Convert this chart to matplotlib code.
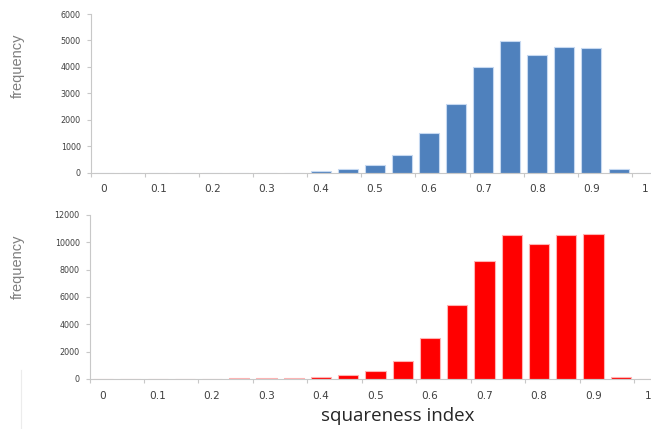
import numpy as np
import matplotlib
matplotlib.use("Agg")
import matplotlib.pyplot as plt
from matplotlib.lines import Line2D

# histogram bins of the squareness index, 0.05 wide
bins = [0, 0.05, 0.1, 0.15, 0.2, 0.25, 0.3, 0.35, 0.4, 0.45, 0.5,
        0.55, 0.6, 0.65, 0.7, 0.75, 0.8, 0.85, 0.9, 0.95, 1.0]
tick_labels = ["0", "0.1", "0.2", "0.3", "0.4", "0.5", "0.6", "0.7", "0.8", "0.9", "1"]

freq_top = [0, 0, 0, 0, 0, 0, 0, 0, 75, 150, 265, 660, 1505, 2580,
            3980, 4990, 4440, 4740, 4715, 115, 0]
freq_bottom = [0, 0, 5, 10, 20, 75, 75, 70, 150, 290, 585, 1290, 2975, 5415,
               8670, 10540, 9850, 10540, 10610, 180, 0]


def plotHist(ax, counts, ymax, ystep, face, edge):
    x = np.arange(len(bins))
    ax.bar(x, counts, width=0.74, color=face, edgecolor=edge, linewidth=0.8, zorder=2)
    ax.set_xlim(-0.5, len(bins) - 0.5)
    ax.set_ylim(0, ymax)
    ax.set_yticks(np.arange(0, ymax + 1, ystep))
    ax.set_yticklabels([str(v) for v in np.arange(0, ymax + 1, ystep)])
    # labels on every other bin, tick marks on bin boundaries
    ax.set_xticks(x[::2])
    ax.set_xticklabels(tick_labels)
    ax.set_xticks(np.arange(-0.5, len(bins), 2), minor=True)
    ax.tick_params(axis="x", which="major", length=0, pad=8.5, labelsize=7.6, labelcolor="#404040")
    ax.tick_params(axis="x", which="minor", length=3, width=0.8, color="#c8c8c8")
    ax.tick_params(axis="y", length=3, width=0.8, color="#c8c8c8", pad=4,
                   labelsize=5.8, labelcolor="#404040")
    for side in ["top", "right"]:
        ax.spines[side].set_visible(False)
    for side in ["left", "bottom"]:
        ax.spines[side].set_color("#c8c8c8")
        ax.spines[side].set_linewidth(0.8)
    ax.set_facecolor("none")


fig = plt.figure(figsize=(6.51, 4.29), dpi=100)

W, H = 651.0, 429.0
ax1 = fig.add_axes([90.5 / W, 1 - 172.5 / H, 21 * 27.08 / W, (172.5 - 14) / H])
plotHist(ax1, freq_top, 6000, 1000, "#4f81bd", "#c6d9f1")

ax2 = fig.add_axes([89.5 / W, 1 - 379 / H, 21 * 27.24 / W, (379 - 215) / H])
plotHist(ax2, freq_bottom, 12000, 2000, "#ff0000", "#ffb3b3")

for yc in [66, 267]:
    fig.text(18 / W, 1 - yc / H, "frequency", rotation=90, ha="center", va="center",
             fontsize=10.5, color="#7f7f7f", family=["Liberation Sans", "DejaVu Sans"])

fig.text(398 / W, 1 - 416 / H, "squareness index", ha="center", va="center",
         fontsize=13.5, color="#262626", family=["Open Sans", "DejaVu Sans"])

# faint border line at the lower left
fig.add_artist(Line2D([20.5 / W, 20.5 / W], [0, 1 - 370 / H], color="#ececec", lw=0.8))

fig.savefig("out.png", dpi=100)
